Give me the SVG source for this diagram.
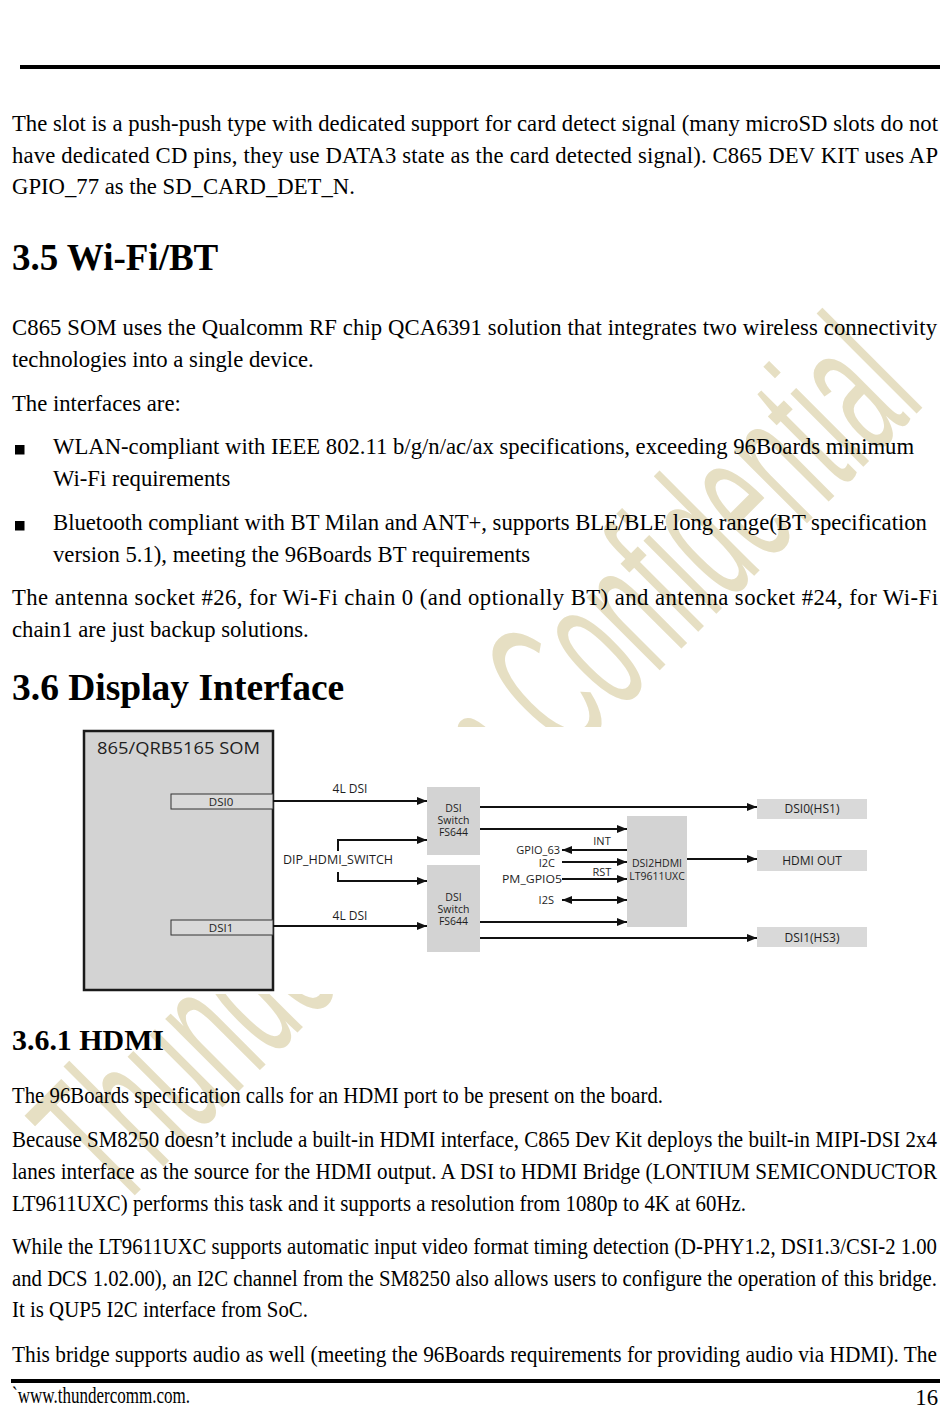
<svg xmlns="http://www.w3.org/2000/svg" width="950" height="1420" viewBox="0 0 950 1420">
<style>
.body{font-family:"Liberation Serif","Times New Roman",serif;font-size:22.7px;fill:#000}
.h1{font-family:"Liberation Serif","Times New Roman",serif;font-weight:bold;fill:#000}
.wm{font-family:"Liberation Sans",Arial,sans-serif;font-size:195px;fill:#e6dfc3;letter-spacing:4px}
.lbl{font-family:"Open Sans","Noto Sans",sans-serif;fill:#1e1e1e}
.box{fill:#d3d3d3}
.arr{stroke:#111;stroke-width:2;fill:none;marker-end:url(#ah)}
.arr2{stroke:#111;stroke-width:2;fill:none;marker-end:url(#ah);marker-start:url(#ah)}
</style>
<defs>
<marker id="ah" markerUnits="userSpaceOnUse" markerWidth="10" markerHeight="8" refX="10" refY="4" orient="auto-start-reverse">
<path d="M0,0 L10,4 L0,8 z" fill="#111"/>
</marker>
</defs>
<rect width="950" height="1420" fill="#fff"/>
<!-- watermark -->
<text class="wm" transform="translate(118,1212) rotate(-45) scale(0.47,1)">Thundercomm Confidential</text>
<!-- header / footer rules -->
<rect x="20" y="65" width="920" height="4" fill="#000"/>
<rect x="11" y="1379" width="929" height="4" fill="#000"/>
<!-- body text -->
<text class="body" x="12" y="131" textLength="926" lengthAdjust="spacing">The slot is a push-push type with dedicated support for card detect signal (many microSD slots do not</text>
<text class="body" x="12" y="163" textLength="926" lengthAdjust="spacing">have dedicated CD pins, they use DATA3 state as the card detected signal). C865 DEV KIT uses AP</text>
<text class="body" x="12" y="194">GPIO_77 as the SD_CARD_DET_N.</text>
<text class="h1" x="12" y="270" font-size="37">3.5 Wi-Fi/BT</text>
<text class="body" x="12" y="335" textLength="925" lengthAdjust="spacing">C865 SOM uses the Qualcomm RF chip QCA6391 solution that integrates two wireless connectivity</text>
<text class="body" x="12" y="367">technologies into a single device.</text>
<text class="body" x="12" y="411">The interfaces are:</text>
<rect x="15" y="445" width="9.5" height="9.5" fill="#000"/>
<text class="body" x="53" y="454">WLAN-compliant with IEEE 802.11 b/g/n/ac/ax specifications, exceeding 96Boards minimum</text>
<text class="body" x="53" y="486">Wi-Fi requirements</text>
<rect x="15" y="521" width="9.5" height="9.5" fill="#000"/>
<text class="body" x="53" y="530">Bluetooth compliant with BT Milan and ANT+, supports BLE/BLE long range(BT specification</text>
<text class="body" x="53" y="562">version 5.1), meeting the 96Boards BT requirements</text>
<text class="body" x="12" y="605" textLength="926" lengthAdjust="spacing">The antenna socket #26, for Wi-Fi chain 0 (and optionally BT) and antenna socket #24, for Wi-Fi</text>
<text class="body" x="12" y="637">chain1 are just backup solutions.</text>
<text class="h1" x="12" y="700" font-size="37.5">3.6 Display Interface</text>

<!-- diagram -->
<rect x="76" y="727" width="800" height="267" fill="#fff"/>
<g id="som">
<rect x="84" y="731" width="189" height="259" fill="#d3d3d3" stroke="#1a1a1a" stroke-width="2.5"/>
<text class="lbl" x="97" y="754" font-size="17" textLength="163" lengthAdjust="spacingAndGlyphs">865/QRB5165 SOM</text>
</g>
<g id="dsi0-port">
<rect x="171" y="794" width="102" height="15" fill="#d9d9d9" stroke="#333" stroke-width="1"/>
<text class="lbl" x="221" y="806" font-size="11.5" text-anchor="middle">DSI0</text>
</g>
<g id="dsi1-port">
<rect x="171" y="920" width="102" height="15" fill="#d9d9d9" stroke="#333" stroke-width="1"/>
<text class="lbl" x="221" y="932" font-size="11.5" text-anchor="middle">DSI1</text>
</g>
<g id="switch1">
<rect class="box" x="427" y="787" width="53" height="68"/>
<text class="lbl" x="453.5" y="812" font-size="10.5" text-anchor="middle">DSI</text>
<text class="lbl" x="453.5" y="824" font-size="10.5" text-anchor="middle">Switch</text>
<text class="lbl" x="453.5" y="836" font-size="10.5" text-anchor="middle">FS644</text>
</g>
<g id="switch2">
<rect class="box" x="427" y="865" width="53" height="87"/>
<text class="lbl" x="453.5" y="901" font-size="10.5" text-anchor="middle">DSI</text>
<text class="lbl" x="453.5" y="913" font-size="10.5" text-anchor="middle">Switch</text>
<text class="lbl" x="453.5" y="925" font-size="10.5" text-anchor="middle">FS644</text>
</g>
<g id="dsi2hdmi">
<rect class="box" x="627" y="816" width="60" height="111"/>
<text class="lbl" x="657" y="867" font-size="10.5" text-anchor="middle">DSI2HDMI</text>
<text class="lbl" x="657" y="880" font-size="10.5" text-anchor="middle">LT9611UXC</text>
</g>
<g id="out-dsi0">
<rect x="757" y="799" width="110" height="20" fill="#d9d9d9"/>
<text class="lbl" x="812" y="813" font-size="12" text-anchor="middle">DSI0(HS1)</text>
</g>
<g id="out-hdmi">
<rect x="757" y="850" width="110" height="21" fill="#d9d9d9"/>
<text class="lbl" x="812" y="865" font-size="12" text-anchor="middle">HDMI OUT</text>
</g>
<g id="out-dsi1">
<rect x="757" y="927" width="110" height="20" fill="#d9d9d9"/>
<text class="lbl" x="812" y="942" font-size="12" text-anchor="middle">DSI1(HS3)</text>
</g>
<g id="connectors">
<line class="arr" x1="273" y1="801" x2="427" y2="801"/>
<path class="arr" d="M338,851 V840 H427"/>
<path class="arr" d="M338,872 V881 H427"/>
<line class="arr" x1="273" y1="926" x2="427" y2="926"/>
<line class="arr" x1="480" y1="807" x2="757" y2="807"/>
<line class="arr" x1="480" y1="829" x2="627" y2="829"/>
<line class="arr" x1="480" y1="922" x2="627" y2="922"/>
<line class="arr" x1="480" y1="938" x2="757" y2="938"/>
<line class="arr" x1="627" y1="850" x2="562" y2="850"/>
<line class="arr" x1="562" y1="862" x2="627" y2="862"/>
<line class="arr" x1="562" y1="879" x2="627" y2="879"/>
<line class="arr2" x1="562" y1="900" x2="627" y2="900"/>
<line class="arr" x1="687" y1="859" x2="757" y2="859"/>
</g>
<g id="connector-labels">
<text class="lbl" x="350" y="793" font-size="12" text-anchor="middle">4L DSI</text>
<text class="lbl" x="283" y="864" font-size="12" textLength="110" lengthAdjust="spacingAndGlyphs">DIP_HDMI_SWITCH</text>
<text class="lbl" x="350" y="920" font-size="12" text-anchor="middle">4L DSI</text>
<text class="lbl" x="560" y="854" font-size="11" text-anchor="end">GPIO_63</text>
<text class="lbl" x="602" y="845" font-size="11" text-anchor="middle">INT</text>
<text class="lbl" x="555" y="867" font-size="11" text-anchor="end">I2C</text>
<text class="lbl" x="502" y="883" font-size="11" textLength="60" lengthAdjust="spacingAndGlyphs">PM_GPIO5</text>
<text class="lbl" x="602" y="876" font-size="11" text-anchor="middle">RST</text>
<text class="lbl" x="554" y="904" font-size="11" text-anchor="end">I2S</text>
</g>

<!-- lower text -->
<text class="h1" x="12" y="1050" font-size="30" textLength="152" lengthAdjust="spacingAndGlyphs">3.6.1 HDMI</text>
<text class="body" x="12" y="1103" textLength="651" lengthAdjust="spacingAndGlyphs">The 96Boards specification calls for an HDMI port to be present on the board.</text>
<text class="body" x="12" y="1147" textLength="925" lengthAdjust="spacingAndGlyphs">Because SM8250 doesn’t include a built-in HDMI interface, C865 Dev Kit deploys the built-in MIPI-DSI 2x4</text>
<text class="body" x="12" y="1179" textLength="925" lengthAdjust="spacingAndGlyphs">lanes interface as the source for the HDMI output. A DSI to HDMI Bridge (LONTIUM SEMICONDUCTOR</text>
<text class="body" x="12" y="1211" textLength="734" lengthAdjust="spacingAndGlyphs">LT9611UXC) performs this task and it supports a resolution from 1080p to 4K at 60Hz.</text>
<text class="body" x="12" y="1254" textLength="925" lengthAdjust="spacingAndGlyphs">While the LT9611UXC supports automatic input video format timing detection (D-PHY1.2, DSI1.3/CSI-2 1.00</text>
<text class="body" x="12" y="1286" textLength="925" lengthAdjust="spacingAndGlyphs">and DCS 1.02.00), an I2C channel from the SM8250 also allows users to configure the operation of this bridge.</text>
<text class="body" x="12" y="1317" textLength="296" lengthAdjust="spacingAndGlyphs">It is QUP5 I2C interface from SoC.</text>
<text class="body" x="12" y="1362" textLength="925" lengthAdjust="spacingAndGlyphs">This bridge supports audio as well (meeting the 96Boards requirements for providing audio via HDMI). The</text>
<text class="body" x="12" y="1403" font-size="17" textLength="178" lengthAdjust="spacingAndGlyphs">`www.thundercomm.com.</text>
<text class="body" x="938" y="1405" font-size="19" text-anchor="end">16</text>
</svg>
